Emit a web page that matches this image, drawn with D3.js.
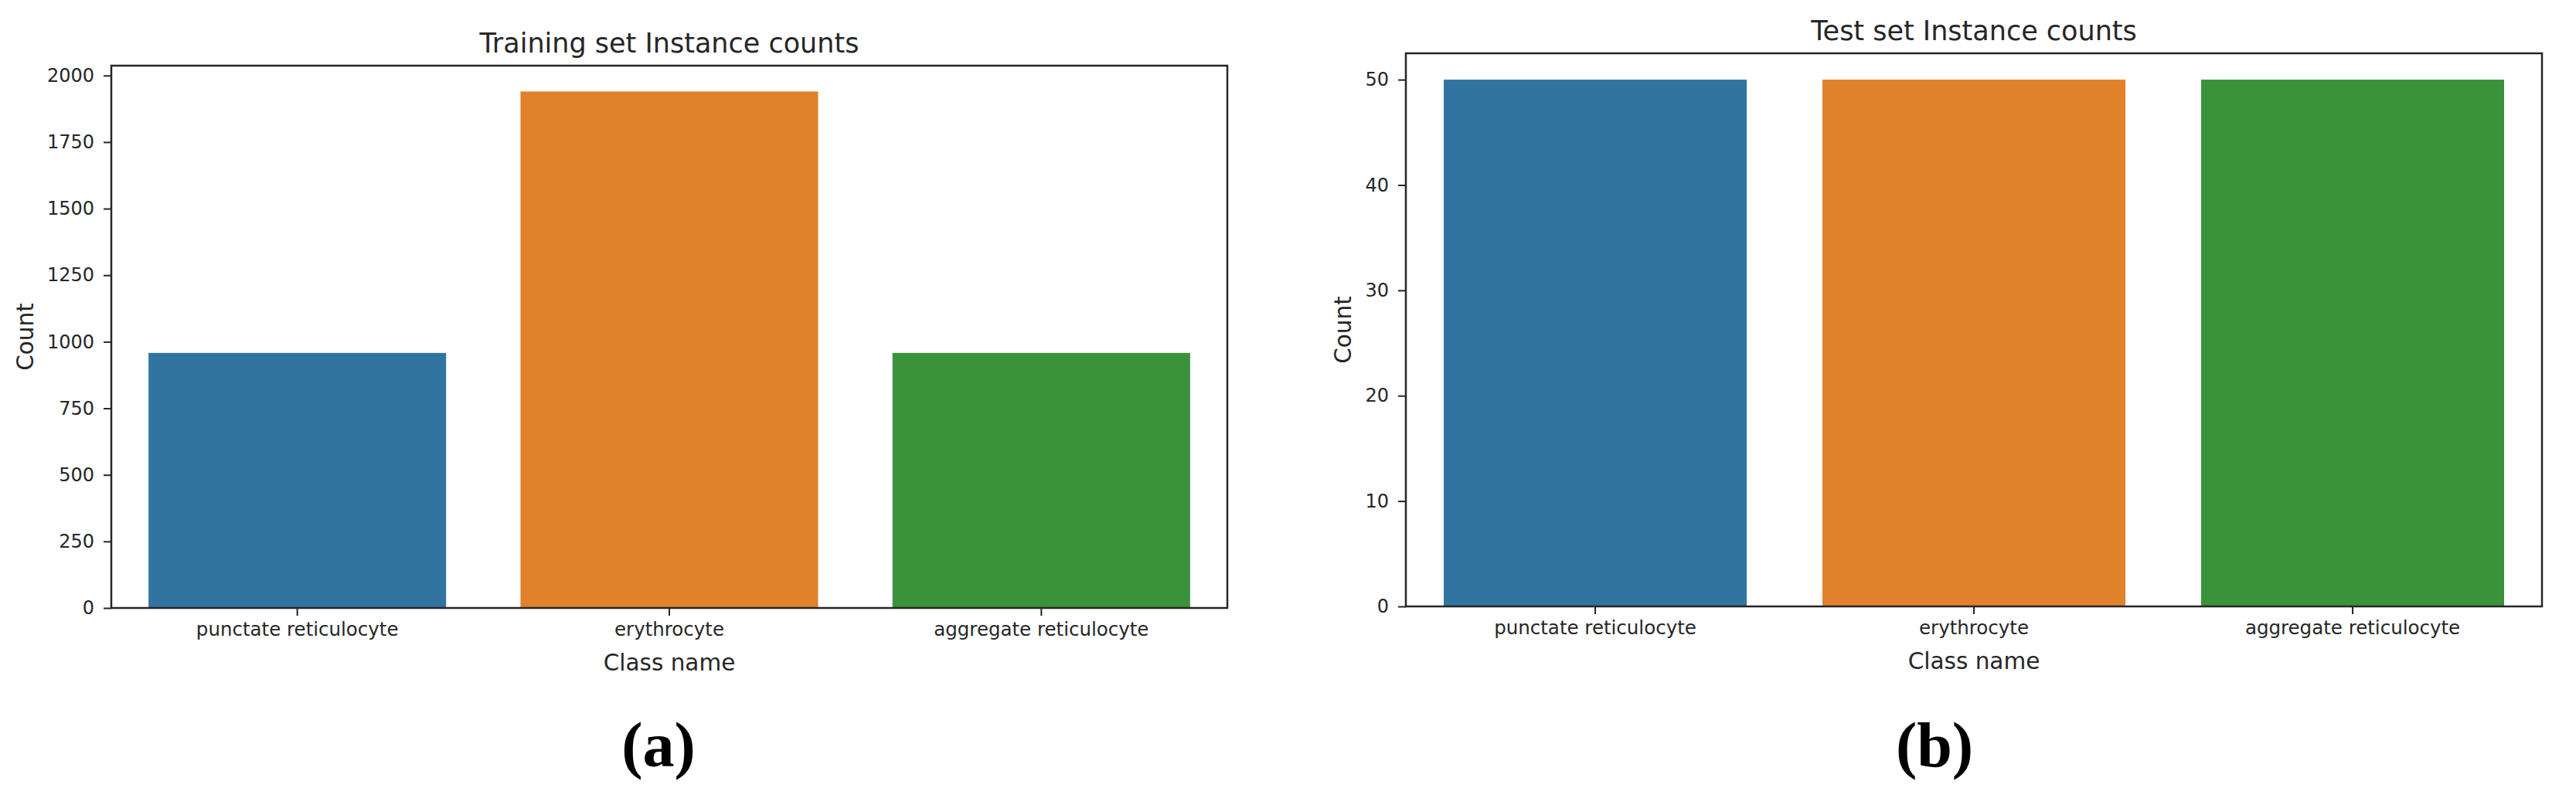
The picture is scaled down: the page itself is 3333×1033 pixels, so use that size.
<!DOCTYPE html>
<html>
<head>
<meta charset="utf-8">
<script src="https://cdn.jsdelivr.net/npm/d3@7"></script>
<style>
  html, body { margin: 0; padding: 0; background: #fff; }
  svg { display: block; }
  text { font-family: "DejaVu Sans", sans-serif; fill: #262626; }
</style>
</head>
<body>
<svg id="chart" width="3333" height="1033"></svg>
<script>
// class names shared by both panels
const classNames = ['punctate reticulocyte', 'erythrocyte', 'aggregate reticulocyte']
const barColors = ['#3274a1', '#e1812c', '#3a923a']

// panel (a): training set
const trainCounts = [958, 1940, 958]
const trainTicks = [0, 250, 500, 750, 1000, 1250, 1500, 1750, 2000]

// panel (b): test set
const testCounts = [50, 50, 50]
const testTicks = [0, 10, 20, 30, 40, 50]

const panels = [
  { title: 'Training set Instance counts', values: trainCounts, ticks: trainTicks, tag: '(a)',
    box: { left: 144, right: 1588, top: 85, bottom: 787 }, tagX: 852 },
  { title: 'Test set Instance counts', values: testCounts, ticks: testTicks, tag: '(b)',
    box: { left: 1819, right: 3289, top: 69, bottom: 785 }, tagX: 2503 }
]

const svg = d3.select('#chart')

panels.forEach(p => drawPanel(p))

function drawPanel(p) {
  const { left, right, top, bottom } = p.box
  const g = svg.append('g')

  const x = d3.scaleBand()
              .domain(classNames)
              .range([left, right])
              .paddingInner(0.2)
              .paddingOuter(0.1)

  // matplotlib style: 5% headroom above the tallest bar
  const y = d3.scaleLinear()
              .domain([0, d3.max(p.values) * 1.05])
              .range([bottom, top])

  g.selectAll('rect.bar')
    .data(classNames)
    .join('rect')
    .attr('class', 'bar')
    .attr('x', d => x(d))
    .attr('width', x.bandwidth())
    .attr('y', (d, i) => y(p.values[i]))
    .attr('height', (d, i) => y(0) - y(p.values[i]))
    .attr('fill', (d, i) => barColors[i])

  const yAxis = g.append('g')
    .attr('transform', `translate(${left},0)`)
    .call(d3.axisLeft(y).tickValues(p.ticks).tickFormat(d3.format('d')).tickSize(10).tickPadding(12))
  yAxis.select('.domain').remove()
  yAxis.selectAll('.tick line').attr('stroke', '#262626').attr('stroke-width', 2)
  yAxis.selectAll('.tick text').style('font-size', '24px').attr('fill', '#262626')

  const xAxis = g.append('g')
    .attr('transform', `translate(0,${bottom})`)
    .call(d3.axisBottom(x).tickSize(10).tickPadding(9))
  xAxis.select('.domain').remove()
  xAxis.selectAll('.tick line').attr('stroke', '#262626').attr('stroke-width', 2)
  xAxis.selectAll('.tick text').style('font-size', '24.5px').attr('fill', '#262626')

  // frame around the axes
  g.append('rect')
    .attr('x', left)
    .attr('y', top)
    .attr('width', right - left)
    .attr('height', bottom - top)
    .attr('fill', 'none')
    .attr('stroke', '#262626')
    .attr('stroke-width', 2.5)

  const cx = (left + right) / 2

  g.append('text')
    .attr('x', cx)
    .attr('y', top - 17)
    .attr('text-anchor', 'middle')
    .style('font-size', '35px')
    .text(p.title)

  g.append('text')
    .attr('x', cx)
    .attr('y', bottom + 81)
    .attr('text-anchor', 'middle')
    .style('font-size', '29.5px')
    .text('Class name')

  const labelEdge = yAxis.node().getBBox().x + left
  g.append('text')
    .attr('transform', `translate(${labelEdge - 18},${(top + bottom) / 2}) rotate(-90)`)
    .attr('text-anchor', 'middle')
    .style('font-size', '29.5px')
    .text('Count')

  g.append('text')
    .attr('x', p.tagX)
    .attr('y', 992)
    .attr('text-anchor', 'middle')
    .style('font-family', '"Liberation Serif", serif')
    .style('font-weight', 'bold')
    .style('font-size', '82px')
    .style('fill', '#000')
    .text(p.tag)
}
</script>
</body>
</html>
